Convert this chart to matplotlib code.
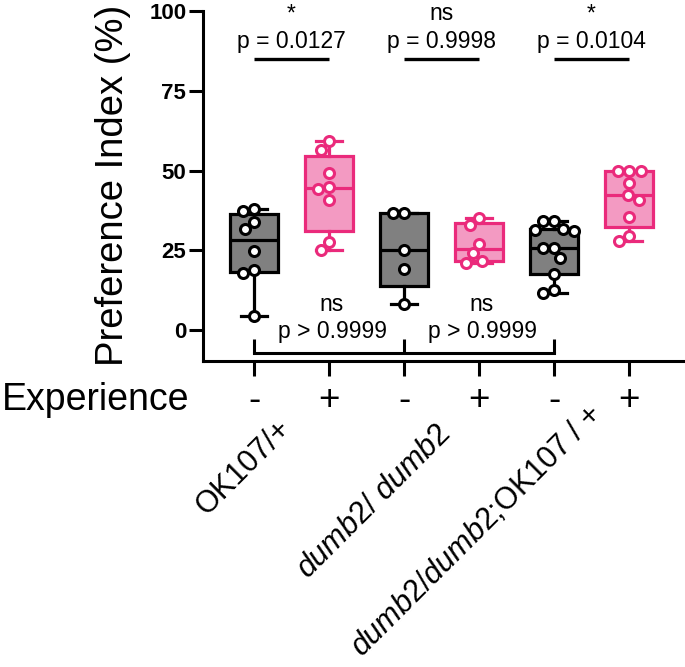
import numpy as np
import matplotlib
matplotlib.use("Agg")
import matplotlib.pyplot as plt

plt.rcParams["font.family"] = ["Liberation Sans", "DejaVu Sans"]
plt.rcParams["mathtext.fontset"] = "custom"
plt.rcParams["mathtext.it"] = "Liberation Sans:italic"
plt.rcParams["mathtext.rm"] = "Liberation Sans"

# preference index (%) per fly group
ok107_naive = [37.3, 38.0, 31.8, 33.9, 24.7, 18.75, 17.9, 4.4]
ok107_exp = [56.5, 59.2, 49.2, 44.8, 44.1, 40.8, 27.6, 25.0]
dumb2_naive = [36.7, 36.7, 25.2, 19.1, 8.3]
dumb2_exp = [35.2, 33.0, 27.1, 24.0, 21.1, 21.7]
rescue_naive = [31.5, 34.1, 31.0, 31.8, 34.1, 25.7, 25.7, 22.6, 17.5, 11.5, 12.5]
rescue_exp = [49.8, 49.8, 49.8, 46.0, 42.4, 40.8, 35.4, 27.9, 29.4]

groups = [ok107_naive, ok107_exp, dumb2_naive, dumb2_exp, rescue_naive, rescue_exp]
experience = ["-", "+", "-", "+", "-", "+"]
genotypes = ["OK107/+",
             r"$\mathit{dumb2}$/ $\mathit{dumb2}$",
             r"$\mathit{dumb2}$/$\mathit{dumb2}$;OK107 / +"]

# pairwise comparisons (top) and naive comparisons (bottom)
top_pairs = [(1, 2), (3, 4), (5, 6)]
top_p = ["p = 0.0127", "p = 0.9998", "p = 0.0104"]
top_sig = ["*", "ns", "*"]
bottom_pairs = [(1, 3), (3, 5)]
bottom_p = ["p > 0.9999", "p > 0.9999"]
bottom_sig = ["ns", "ns"]

GREY_EDGE, GREY_FILL = "black", "#808080"
PINK_EDGE, PINK_FILL = "#EA2A7B", "#F39AC2"


def swarm_offsets(ax, vals, pos, diam=11.5):
    # simple beeswarm in pixel space so circles don't sit on top of each other
    vals = np.asarray(vals, float)
    pts = ax.transData.transform(np.column_stack([np.full(len(vals), pos), vals]))
    x0 = pts[0, 0]
    placed = []
    xs = np.zeros(len(vals))
    for i in np.argsort(-vals):
        y = pts[i, 1]
        cands = [0.0]
        for px, py in placed:
            dy = abs(py - y)
            if dy < diam:
                w = np.sqrt(diam ** 2 - dy ** 2)
                cands += [px - w, px + w]
        ok = [c for c in cands
              if all(np.hypot(c - px, y - py) >= diam - 1e-6 for px, py in placed)]
        best = min(ok, key=abs)
        placed.append((best, y))
        xs[i] = best
    back = ax.transData.inverted().transform(np.column_stack([x0 + xs, pts[:, 1]]))
    return back[:, 0]


fig = plt.figure(figsize=(6.85, 6.67), dpi=100)
ax = fig.add_axes([203 / 685, 306 / 667, 480 / 685, 350 / 667])
ax.set_xlim(0.32, 6.72)
ax.set_ylim(-9.7, 100)

positions = np.arange(1, len(groups) + 1)
stats = []
for g in groups:
    g = np.asarray(g)
    q1, med, q3 = np.percentile(g, [25, 50, 75], method="weibull")
    stats.append(dict(med=med, q1=q1, q3=q3, whislo=g.min(), whishi=g.max(), fliers=[]))

for i, (st, pos) in enumerate(zip(stats, positions)):
    edge = GREY_EDGE if i % 2 == 0 else PINK_EDGE
    fill = GREY_FILL if i % 2 == 0 else PINK_FILL
    ax.bxp([st], positions=[pos], widths=0.64, capwidths=0.35, patch_artist=True,
           showfliers=False,
           boxprops=dict(facecolor=fill, edgecolor=edge, linewidth=2.3),
           medianprops=dict(color=edge, linewidth=2.3),
           whiskerprops=dict(color=edge, linewidth=2.3),
           capprops=dict(color=edge, linewidth=2.3))
    xs = swarm_offsets(ax, groups[i], pos)
    ax.plot(xs, groups[i], "o", ms=7.2, mfc="white", mec=edge, mew=2.2,
            zorder=5, clip_on=False)

# significance annotations (star / ns stacked over the p value)
for (a, b), p, s in zip(top_pairs, top_p, top_sig):
    ax.plot([a, b], [85, 85], color="black", lw=2.4, solid_capstyle="butt")
    ax.text((a + b) / 2, 88.5, s + "\n" + p, ha="center", va="baseline",
            multialignment="center", linespacing=1.25, fontsize=16.5)

for (a, b), p, s in zip(bottom_pairs, bottom_p, bottom_sig):
    ax.text((a + b) / 2 + 0.04, -2.6, s + "\n" + p, ha="center", va="baseline",
            multialignment="center", linespacing=1.25, fontsize=16.5)
ends = sorted({x for pair in bottom_pairs for x in pair})
for x in ends:
    ax.plot([x, x], [-2.9, -7.3], color="black", lw=2.2, solid_capstyle="butt")
ax.plot([ends[0], ends[-1]], [-7.3, -7.3], color="black", lw=2.2, solid_capstyle="projecting")

# axes styling
for side in ["top", "right"]:
    ax.spines[side].set_visible(False)
for side in ["left", "bottom"]:
    ax.spines[side].set_linewidth(2.2)
ax.set_yticks([0, 25, 50, 75, 100])
ax.tick_params(axis="y", length=10, width=2.2, pad=2, labelsize=16)
for lab in ax.get_yticklabels():
    lab.set_fontweight("bold")
ax.set_xticks(positions)
ax.set_xticklabels([])
ax.tick_params(axis="x", length=11, width=2.2)

ax.set_ylabel("Preference Index (%)", fontsize=27.5, va="center")
ax.yaxis.set_label_coords(-0.1875, 0.503)

# experience row and genotype labels below the axis
for pos, e in zip(positions, experience):
    ax.text(pos, -0.140, e, transform=ax.get_xaxis_transform(), ha="center",
            va="baseline", fontsize=26.5)
ax.text(-0.42, -0.140, "Experience", transform=ax.transAxes, ha="left",
        va="baseline", fontsize=27)

label_x = [1.44, 3.56, 5.58]
label_y = [-0.18, -0.197, -0.138]
for x, y, t in zip(label_x, label_y, genotypes):
    ax.text(x, y, t, transform=ax.get_xaxis_transform(), ha="right", va="center",
            rotation=45, rotation_mode="anchor", fontsize=22)

fig.savefig("out.png", dpi=100)
